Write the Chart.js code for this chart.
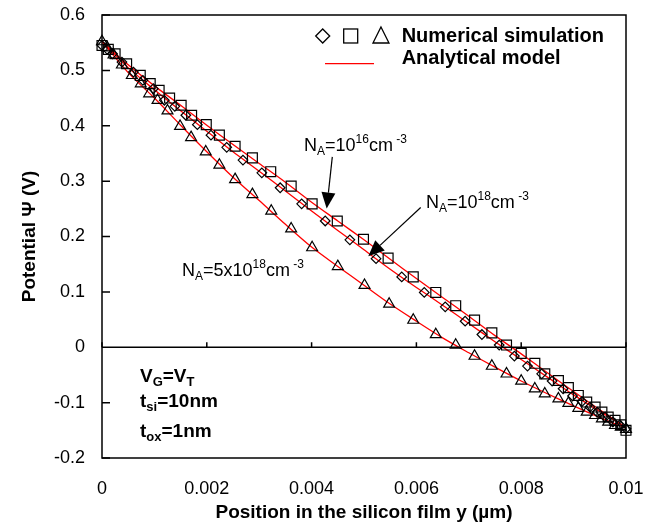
<!DOCTYPE html>
<html lang="en">
<head>
<meta charset="UTF-8">
<title>Potential in the silicon film</title>
<style>
  html, body { margin: 0; padding: 0; background: #fff; }
  #wrap { width: 652px; height: 525px; }
</style>
</head>
<body>
<div id="wrap"><canvas id="chart" width="652" height="525"></canvas></div>
<script src="https://cdn.jsdelivr.net/npm/chart.js"></script>
<script>
// numerical simulation, NA = 1e16 cm-3 (squares)
const squareX = [0, 0.00012, 0.00025, 0.00047, 0.00073, 0.00092, 0.00109, 0.00129, 0.00151, 0.00171,
  0.00199, 0.00224, 0.00254, 0.00287, 0.00322, 0.00361, 0.00401, 0.00449, 0.00499, 0.00546,
  0.00594, 0.00637, 0.00675, 0.00711, 0.00744, 0.00772, 0.008, 0.00826, 0.00845, 0.00871,
  0.0089, 0.00909, 0.00925, 0.00941, 0.00954, 0.00966, 0.00979, 0.0099, 0.01];
const squareY = [0.545, 0.538, 0.530, 0.512, 0.491, 0.476, 0.464, 0.450, 0.437, 0.419,
  0.402, 0.383, 0.363, 0.342, 0.317, 0.291, 0.259, 0.228, 0.195, 0.161,
  0.127, 0.099, 0.075, 0.049, 0.026, 0.004, -0.011, -0.029, -0.048, -0.060,
  -0.073, -0.087, -0.099, -0.108, -0.117, -0.126, -0.132, -0.140, -0.150];

// numerical simulation, NA = 1e18 cm-3 (diamonds)
const diamondX = [0, 0.0001, 0.0002, 0.00038, 0.0006, 0.00078, 0.00098, 0.00119, 0.00139, 0.0016,
  0.00182, 0.00208, 0.00238, 0.00269, 0.00305, 0.0034, 0.00381, 0.00426, 0.00473, 0.00523,
  0.00572, 0.00615, 0.00655, 0.00693, 0.00725, 0.00758, 0.00787, 0.00812, 0.00839, 0.00859,
  0.0088, 0.00898, 0.00916, 0.00931, 0.00945, 0.0096, 0.00975, 0.00988, 0.01];
const diamondY = [0.545, 0.538, 0.530, 0.515, 0.497, 0.482, 0.467, 0.446, 0.435, 0.419,
  0.402, 0.383, 0.361, 0.338, 0.315, 0.288, 0.259, 0.228, 0.194, 0.160,
  0.127, 0.099, 0.073, 0.047, 0.023, 0.004, -0.016, -0.034, -0.048, -0.061,
  -0.075, -0.088, -0.098, -0.108, -0.117, -0.126, -0.135, -0.140, -0.147];

// numerical simulation, NA = 5e18 cm-3 (triangles)
const triangleX = [0, 0.0001, 0.00022, 0.00038, 0.00057, 0.00074, 0.0009, 0.00106, 0.00125, 0.00149,
  0.0017, 0.00198, 0.00224, 0.00254, 0.00287, 0.00323, 0.00361, 0.00401, 0.0045, 0.00501,
  0.00548, 0.00594, 0.00637, 0.00675, 0.00711, 0.00744, 0.00772, 0.008, 0.00826, 0.00845,
  0.00871, 0.0089, 0.00909, 0.00925, 0.00941, 0.00954, 0.00966, 0.00979, 0.0099, 0.01];
const triangleY = [0.552, 0.541, 0.528, 0.510, 0.491, 0.476, 0.458, 0.446, 0.427, 0.399,
  0.379, 0.353, 0.329, 0.303, 0.276, 0.246, 0.214, 0.180, 0.146, 0.112,
  0.078, 0.049, 0.023, 0.004, -0.016, -0.034, -0.048, -0.061, -0.075, -0.084,
  -0.093, -0.101, -0.110, -0.117, -0.123, -0.129, -0.135, -0.141, -0.144, -0.148];

// analytical model (red lines)
const modelX = [0, 0.0005, 0.001, 0.0015, 0.002, 0.0025, 0.003, 0.0035, 0.004, 0.0045, 0.005,
  0.0055, 0.006, 0.0065, 0.007, 0.0075, 0.008, 0.0085, 0.009, 0.0095, 0.01];
const model16 = [0.552, 0.510, 0.472, 0.437, 0.401, 0.366, 0.332, 0.298, 0.262, 0.228, 0.194,
  0.159, 0.124, 0.090, 0.056, 0.021, -0.012, -0.046, -0.080, -0.113, -0.145];
const model18 = [0.552, 0.505, 0.465, 0.427, 0.390, 0.353, 0.318, 0.282, 0.246, 0.211, 0.176,
  0.141, 0.108, 0.076, 0.043, 0.010, -0.022, -0.054, -0.086, -0.116, -0.145];
const model5e18 = [0.552, 0.496, 0.450, 0.401, 0.353, 0.307, 0.265, 0.222, 0.181, 0.146, 0.112,
  0.078, 0.047, 0.017, -0.010, -0.036, -0.061, -0.084, -0.106, -0.127, -0.146];

const xTicks = [0, 0.002, 0.004, 0.006, 0.008, 0.01];
const yTicks = [-0.2, -0.1, 0, 0.1, 0.2, 0.3, 0.4, 0.5, 0.6];

const FONT = '"Liberation Sans", Arial, Helvetica, sans-serif';

function pts(xs, ys) { return xs.map((x, i) => ({ x: x, y: ys[i] })); }

// text with _sub and ^sup pieces
function rich(ctx, x, y, parts, size, bold) {
  const w = bold ? 'bold ' : '';
  for (const p of parts) {
    let s = size, dy = 0, t = p;
    if (p[0] === '_') { s = Math.round(size * 0.68); dy = 4; t = p.slice(1); }
    else if (p[0] === '^') { s = Math.round(size * 0.68); dy = -8; t = p.slice(1); }
    ctx.font = w + s + 'px ' + FONT;
    ctx.fillText(t, x, y + dy);
    x += ctx.measureText(t).width;
  }
}

function arrow(ctx, x1, y1, x2, y2) {
  const a = Math.atan2(y2 - y1, x2 - x1), len = 16, hw = 7;
  const bx = x2 - Math.cos(a) * len, by = y2 - Math.sin(a) * len;
  ctx.beginPath();
  ctx.moveTo(x1, y1); ctx.lineTo(bx, by);
  ctx.stroke();
  ctx.beginPath();
  ctx.moveTo(x2, y2);
  ctx.lineTo(bx + Math.sin(a) * hw, by - Math.cos(a) * hw);
  ctx.lineTo(bx - Math.sin(a) * hw, by + Math.cos(a) * hw);
  ctx.closePath();
  ctx.fill();
}

// box, zero line and inward ticks
const framePlugin = {
  id: 'frame',
  afterDatasetsDraw(chart) {
    const { ctx, chartArea: a, scales: { x, y } } = chart;
    ctx.save();
    ctx.strokeStyle = '#000';
    ctx.lineWidth = 1.5;
    ctx.strokeRect(a.left, a.top, a.right - a.left, a.bottom - a.top);
    const y0 = y.getPixelForValue(0);
    ctx.beginPath();
    ctx.moveTo(a.left, y0); ctx.lineTo(a.right, y0);
    yTicks.forEach(v => { const p = y.getPixelForValue(v); ctx.moveTo(a.left, p); ctx.lineTo(a.left + 8, p); });
    xTicks.forEach(v => { const p = x.getPixelForValue(v); ctx.moveTo(p, y0); ctx.lineTo(p, y0 - 5); });
    ctx.stroke();
    ctx.restore();
  }
};

// legend, labels, arrows, inset text
const notesPlugin = {
  id: 'notes',
  afterDraw(chart) {
    const { ctx, scales: { x, y } } = chart;
    const X = v => x.getPixelForValue(v), Y = v => y.getPixelForValue(v);
    ctx.save();
    ctx.fillStyle = '#000';
    ctx.strokeStyle = '#000';
    ctx.textBaseline = 'alphabetic';
    ctx.textAlign = 'left';

    // legend symbols
    ctx.lineWidth = 1.3;
    let cx = X(0.004212), cy = Y(0.5621);
    ctx.beginPath();
    ctx.moveTo(cx - 7, cy); ctx.lineTo(cx, cy - 7); ctx.lineTo(cx + 7, cy); ctx.lineTo(cx, cy + 7);
    ctx.closePath(); ctx.stroke();
    cx = X(0.004746);
    ctx.strokeRect(cx - 7, cy - 7, 14, 14);
    cx = X(0.005324);
    ctx.beginPath();
    ctx.moveTo(cx, cy - 9); ctx.lineTo(cx + 8, cy + 7); ctx.lineTo(cx - 8, cy + 7);
    ctx.closePath(); ctx.stroke();
    ctx.strokeStyle = '#ff0000';
    ctx.lineWidth = 1.3;
    ctx.beginPath();
    ctx.moveTo(X(0.004256), Y(0.5123)); ctx.lineTo(X(0.005191), Y(0.5123));
    ctx.stroke();
    rich(ctx, X(0.005719), Y(0.5508), ['Numerical simulation'], 20, true);
    rich(ctx, X(0.005719), Y(0.5123), ['Analytical model'], 20, true);

    // curve labels
    rich(ctx, X(0.003855), Y(0.354), ['N', '_A', '=10', '^16', 'cm', '^ -3'], 18, false);
    rich(ctx, X(0.006183), Y(0.251), ['N', '_A', '=10', '^18', 'cm', '^ -3'], 18, false);
    rich(ctx, X(0.001527), Y(0.128), ['N', '_A', '=5x10', '^18', 'cm', '^ -3'], 18, false);

    ctx.strokeStyle = '#000';
    ctx.lineWidth = 1.2;
    arrow(ctx, X(0.004395), Y(0.3437), X(0.004288), Y(0.2505));
    arrow(ctx, X(0.006082), Y(0.2523), X(0.005082), Y(0.1643));

    // device parameters
    rich(ctx, X(0.000725), Y(-0.0632), ['V', '_G', '=V', '_T'], 19, true);
    rich(ctx, X(0.000725), Y(-0.1084), ['t', '_si', '=10nm'], 19, true);
    rich(ctx, X(0.000725), Y(-0.1625), ['t', '_ox', '=1nm'], 19, true);
    ctx.restore();
  }
};

const marker = { borderColor: '#000', backgroundColor: 'rgba(0,0,0,0)', borderWidth: 1.2, showLine: false, clip: false, order: 1 };
const model = { borderColor: '#ff0000', borderWidth: 1.3, pointRadius: 0, showLine: true, tension: 0.3, clip: false, order: 2 };

new Chart(document.getElementById('chart').getContext('2d'), {
  type: 'scatter',
  data: {
    datasets: [
      Object.assign({ label: 'Model 1e16', data: pts(modelX, model16) }, model),
      Object.assign({ label: 'Model 1e18', data: pts(modelX, model18) }, model),
      Object.assign({ label: 'Model 5e18', data: pts(modelX, model5e18) }, model),
      Object.assign({ label: 'Sim 1e16', data: pts(squareX, squareY), pointStyle: 'rect', pointRadius: 7 }, marker),
      Object.assign({ label: 'Sim 1e18', data: pts(diamondX, diamondY), pointStyle: 'rectRot', pointRadius: 4.8 }, marker),
      Object.assign({ label: 'Sim 5e18', data: pts(triangleX, triangleY), pointStyle: 'triangle', pointRadius: 6.3 }, marker)
    ]
  },
  options: {
    responsive: false,
    animation: false,
    events: [],
    layout: { padding: { left: 0, right: 26, top: 15, bottom: 0 } },
    plugins: { legend: { display: false }, tooltip: { enabled: false } },
    scales: {
      x: {
        type: 'linear', min: 0, max: 0.01,
        afterBuildTicks: s => { s.ticks = xTicks.map(v => ({ value: v })); },
        afterFit: s => { s.height = 67; s.paddingLeft = 0; s.paddingRight = 0; },
        grid: { display: false, drawTicks: false },
        border: { display: false },
        ticks: { color: '#000', font: { family: FONT, size: 18 }, padding: 20, maxRotation: 0,
          callback: v => String(+Number(v).toFixed(3)) },
        title: { display: true, text: 'Position in the silicon film y (µm)', color: '#000',
          font: { family: FONT, size: 19, weight: 'bold' }, padding: { top: 0, bottom: 1 } }
      },
      y: {
        type: 'linear', min: -0.2, max: 0.6,
        afterBuildTicks: s => { s.ticks = yTicks.map(v => ({ value: v })); },
        afterFit: s => { s.width = 102; s.paddingTop = 0; s.paddingBottom = 0; },
        grid: { display: false, drawTicks: false },
        border: { display: false },
        ticks: { color: '#000', font: { family: FONT, size: 18 }, padding: 17,
          callback: v => String(+Number(v).toFixed(1)) },
        title: { display: true, text: 'Potential Ψ (V)', color: '#000',
          font: { family: FONT, size: 19, weight: 'bold' }, padding: { top: 18, bottom: 0 } }
      }
    }
  },
  plugins: [framePlugin, notesPlugin]
});
</script>
</body>
</html>
